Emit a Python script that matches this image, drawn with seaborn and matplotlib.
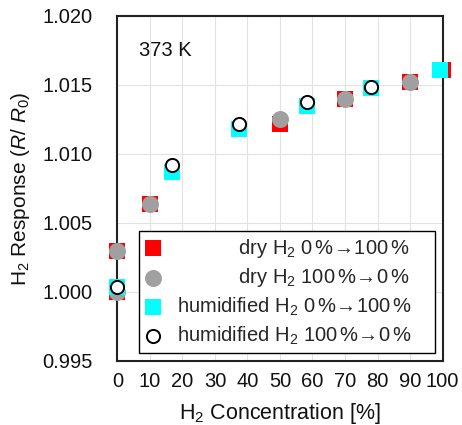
import matplotlib
matplotlib.use("Agg")
import matplotlib.pyplot as plt
import seaborn as sns
import pandas as pd

# ---- data ----
dry_up_x = [0, 0, 10, 50, 70, 90, 100]
dry_up_y = [1.0000, 1.0030, 1.0064, 1.0122, 1.0140, 1.0152, 1.0161]
dry_down_x = [90, 70, 50, 10, 0, 0]
dry_down_y = [1.0152, 1.0140, 1.01255, 1.0064, 1.0030, 1.0000]
hum_up_x = [-0.2, 16.7, 37.5, 58.2, 77.9, 99.2]
hum_up_y = [1.00034, 1.00867, 1.01181, 1.01350, 1.01476, 1.01610]
hum_down_x = [77.9, 58.2, 37.5, 16.8, -0.2]
hum_down_y = [1.01483, 1.01379, 1.01217, 1.00922, 1.00034]
x_ticks = [0, 10, 20, 30, 40, 50, 60, 70, 80, 90, 100]
y_ticks = [0.995, 1.000, 1.005, 1.010, 1.015, 1.020]
y_tick_labels = ["0.995", "1.000", "1.005", "1.010", "1.015", "1.020"]
ARR = "$\\!\\rightarrow\\!$"
labels = [
    "           dry H$_2$ 0$\\,$%" + ARR + "100$\\,$%    ",
    "           dry H$_2$ 100$\\,$%" + ARR + "0$\\,$%    ",
    "humidified H$_2$ 0$\\,$%" + ARR + "100$\\,$%    ",
    "humidified H$_2$ 100$\\,$%" + ARR + "0$\\,$%    ",
]

sns.set_style("white")
plt.rcParams["font.family"] = ["Liberation Sans", "DejaVu Sans"]
plt.rcParams["mathtext.fontset"] = "custom"
plt.rcParams["mathtext.rm"] = "Liberation Sans"
plt.rcParams["mathtext.it"] = "Liberation Sans:italic"
plt.rcParams["mathtext.bf"] = "Liberation Sans:bold"

fig = plt.figure(figsize=(4.62, 4.25), dpi=100)
ax = fig.add_axes([0.2543, 0.1506, 0.7035, 0.8118])

df1 = pd.DataFrame({"x": dry_up_x, "y": dry_up_y})
df2 = pd.DataFrame({"x": dry_down_x, "y": dry_down_y})
df3 = pd.DataFrame({"x": hum_up_x, "y": hum_up_y})
df4 = pd.DataFrame({"x": hum_down_x, "y": hum_down_y})

sns.scatterplot(data=df1, x="x", y="y", ax=ax, marker="s", s=144, color="#FF0000",
                linewidth=0, label=labels[0], zorder=3, clip_on=False)
sns.scatterplot(data=df2, x="x", y="y", ax=ax, marker="o", s=150, color="#A0A0A0",
                linewidth=0, label=labels[1], zorder=4, clip_on=False)
sns.scatterplot(data=df3, x="x", y="y", ax=ax, marker="s", s=125, color="#00FFFF",
                linewidth=0, label=labels[2], zorder=5, clip_on=False)
sns.scatterplot(data=df4, x="x", y="y", ax=ax, marker="o", s=90, facecolor="white",
                edgecolor="black", linewidth=1.4, label=labels[3], zorder=6, clip_on=False)

ax.set_xlim(0, 100)
ax.set_ylim(0.995, 1.020)
ax.set_xticks(x_ticks)
ax.set_xticklabels([str(t) for t in x_ticks])
ax.set_yticks(y_ticks)
ax.set_yticklabels(y_tick_labels)
ax.tick_params(axis="both", length=0, labelsize=14.5, colors="#111111")
ax.tick_params(axis="y", pad=18)
ax.tick_params(axis="x", pad=8)
ax.grid(True, color="#E2E2E2", linewidth=0.8)
ax.set_axisbelow(True)
for sp in ax.spines.values():
    sp.set_color("#222222")
    sp.set_linewidth(1.5)

ax.set_xlabel("H$_2$ Concentration [%]", fontsize=15.5, color="#111111")
ax.set_ylabel("H$_2$ Response ($\\mathit{R}$/ $\\mathit{R}_0$)", fontsize=15,
              color="#111111")
ax.xaxis.label.set_va("center")
ax.yaxis.label.set_va("center")
ax.xaxis.set_label_coords(0.5, -0.151)
ax.yaxis.set_label_coords(-0.298, 0.5)
ax.text(0.066, 0.90, "373 K", transform=ax.transAxes, fontsize=14.5,
        ha="left", va="center", color="#111111")

leg = ax.legend(loc="lower left", bbox_to_anchor=(0.067, 0.024), fontsize=14.5,
                frameon=True, fancybox=False, edgecolor="black", framealpha=1,
                handletextpad=0.75, borderpad=0.3, labelspacing=0.32,
                handlelength=0.8, borderaxespad=0)
leg.get_frame().set_linewidth(1.0)

fig.savefig("out.png", dpi=100)
